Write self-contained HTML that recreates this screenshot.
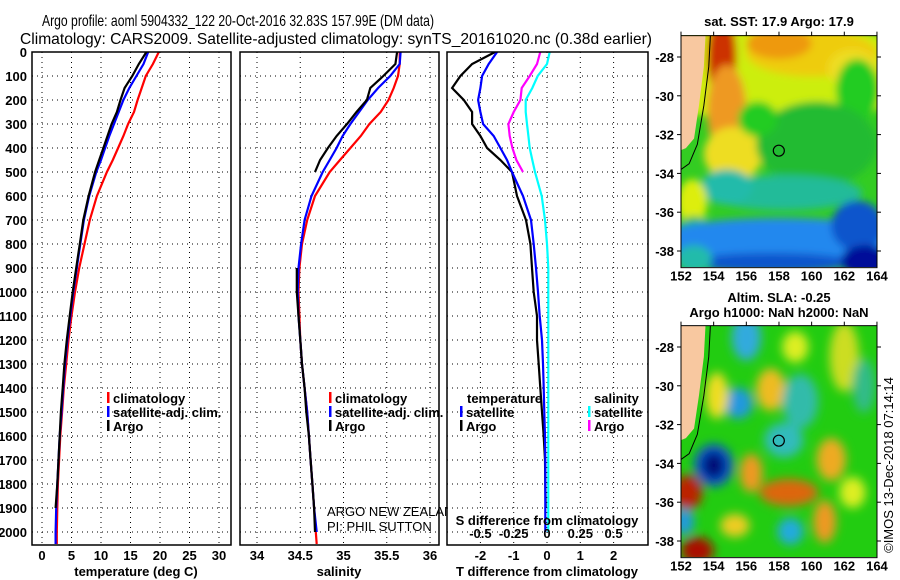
<!DOCTYPE html>
<html><head><meta charset="utf-8"><style>
body{margin:0;background:#fff}
svg{display:block}
text{font-family:"Liberation Sans",sans-serif}
.tk{font-size:13px;font-weight:bold}
.lg{font-size:13px;font-weight:bold}
</style></head><body>
<svg id="s" width="900" height="580" viewBox="0 0 900 580" xmlns="http://www.w3.org/2000/svg">
<defs>
<filter id="bl1" x="-20%" y="-20%" width="140%" height="140%"><feGaussianBlur stdDeviation="4"/></filter>
<filter id="bl2" x="-20%" y="-20%" width="140%" height="140%"><feGaussianBlur stdDeviation="5"/></filter>
<clipPath id="cm1"><rect x="681" y="35" width="196" height="232"/></clipPath>
<clipPath id="cm2"><rect x="681" y="325" width="196" height="232"/></clipPath>
<clipPath id="cp1"><rect x="32" y="52" width="199" height="493"/></clipPath>
<clipPath id="cp2"><rect x="240" y="52" width="199" height="493"/></clipPath>
<clipPath id="cp3"><rect x="447" y="52" width="201" height="493"/></clipPath>
</defs>
<text x="238" y="26" text-anchor="middle" font-size="16" textLength="392" lengthAdjust="spacingAndGlyphs">Argo profile: aoml 5904332_122 20-Oct-2016 32.83S 157.99E (DM data)</text>
<text x="336" y="44" text-anchor="middle" font-size="16" textLength="632" lengthAdjust="spacingAndGlyphs">Climatology: CARS2009. Satellite-adjusted climatology: synTS_20161020.nc (0.38d earlier)</text>
<g id="panels"></g>
<g id="maps"></g>
<text transform="translate(893,465) rotate(-90)" text-anchor="middle" font-size="13">©IMOS 13-Dec-2018 07:14:14</text>
</svg>
<script>
// ---- data ----
const depths = [0,50,100,150,200,250,300,350,400,450,500,600,700,800,900,1000,1100,1200,1300,1400,1500,1600,1700,1800,1900,2000,2050];
const tempClim = [19.8,18.8,17.6,16.9,16.2,15.6,14.6,13.8,12.9,12.0,11.0,9.3,8.1,7.2,6.3,5.6,5.0,4.5,4.1,3.7,3.4,3.1,2.9,2.7,2.6,2.5,2.5];
const tempSat  = [18.0,17.2,16.0,14.8,13.8,13.0,12.2,11.4,10.7,10.0,9.2,8.0,7.1,6.5,5.9,5.3,4.8,4.3,3.9,3.6,3.3,3.0,2.8,2.6,2.4,2.3,2.3];
const tempArgo = [17.7,16.4,15.3,14.0,13.3,12.7,11.8,11.1,10.4,9.7,9.0,7.9,7.0,6.4,5.8,5.2,4.7,4.2,3.8,3.5,3.2,3.0,2.8,2.6,2.3,null,null];
const salClim = [35.65,35.65,35.63,35.58,35.52,35.43,35.30,35.20,35.08,34.96,34.84,34.67,34.58,34.52,34.49,34.48,34.49,34.50,34.52,34.55,34.58,34.60,34.62,34.64,34.66,34.68,34.69];
const salSat  = [35.66,35.65,35.54,35.40,35.28,35.18,35.08,34.99,34.92,34.84,34.76,34.63,34.55,34.51,34.48,34.47,34.48,34.50,34.52,34.55,34.58,34.60,34.62,34.64,34.66,34.69,null];
const salArgo = [35.62,35.60,35.46,35.31,35.27,35.15,35.04,34.92,34.82,34.73,34.67,null,null,null,34.46,34.46,34.48,34.50,34.52,34.55,34.57,34.60,34.62,34.64,34.66,34.67,null];
const dTsat  = [-1.5,-1.75,-1.95,-2.0,-2.07,-2.0,-1.92,-1.6,-1.4,-1.2,-1.05,-0.72,-0.48,-0.4,-0.33,-0.27,-0.22,-0.15,-0.12,-0.1,-0.08,-0.06,-0.05,-0.05,-0.05,-0.05,null];
const dTargo = [-1.56,-2.25,-2.6,-2.85,-2.5,-2.25,-2.25,-2.0,-1.8,-1.4,-1.05,-0.9,-0.63,-0.5,-0.45,-0.4,-0.3,-0.3,-0.25,-0.2,-0.15,-0.1,-0.06,-0.05,-0.04,null,null];
const dSargo = [-0.05,-0.075,-0.13,-0.19,-0.2,-0.25,-0.29,-0.28,-0.26,-0.23,-0.18,null,null,null,null,null,null,null,null,null,null,null,null,null,null,null,null];
const dSsat  = [0.02,0.0,-0.07,-0.11,-0.16,-0.16,-0.15,-0.14,-0.13,-0.11,-0.09,-0.04,-0.015,0,0.01,0.01,0.01,0.01,0.01,0.01,0.01,0.01,0.01,0.01,0.01,0.01,null];
const depthTicks = [0,100,200,300,400,500,600,700,800,900,1000,1100,1200,1300,1400,1500,1600,1700,1800,1900,2000];
const tempTicks = [0,5,10,15,20,25,30];
const salTicks = [34,34.5,35,35.5,36];
const salTickLabels = ['34','34.5','35','35.5','36'];
const dTTicks = [-2,-1,0,1,2];
const dSTicks = [-0.5,-0.25,0,0.25,0.5];
const dSTickLabels = ['-0.5','-0.25','0','0.25','0.5'];
const latTicks = [-28,-30,-32,-34,-36,-38];
const lonTicks = [152,154,156,158,160,162,164];
const argoLon = 157.99, argoLat = -32.83;

// ---- scales ----
const NS='http://www.w3.org/2000/svg';
const yD = d => 52 + d*0.24;
const xT = v => 42 + v*5.9;
const xS = v => 257 + (v-34)*86.5;
const xDT = v => 547 + v*33.3;
const xDS = v => 547 + v*133.2;
const mx = lon => 681 + (lon-152)*16.33;
const my1 = lat => 57 + (-28-lat)*19.4;
const my2 = lat => 347 + (-28-lat)*19.4;

function el(tag, attrs, parent){const e=document.createElementNS(NS,tag);for(const k in attrs)e.setAttribute(k,attrs[k]);parent.appendChild(e);return e;}
const P=document.getElementById('panels');
const M=document.getElementById('maps');

function line(vals, xf, color, parent, name){
  let d='', pen=false;
  for(let i=0;i<depths.length;i++){
    if(vals[i]===null){pen=false;continue;}
    d+=(pen?'L':'M')+xf(vals[i]).toFixed(1)+' '+yD(depths[i]).toFixed(1);pen=true;
  }
  const p=el('path',{d:d,fill:'none',stroke:color,'stroke-width':2.2},parent);
  
  
}

function panel(x0,w,name,xticks,xf,labels,cp,showY){
  const g=el('g',{},P);
  
  
  el('rect',{x:x0,y:52,width:w,height:493,fill:'#fff'},g);
  depthTicks.forEach(d=>{
    el('line',{x1:x0,x2:x0+w,y1:yD(d),y2:yD(d),stroke:'#000','stroke-width':1,'stroke-dasharray':'1 4'},g);
    if(showY){const t=el('text',{x:27,y:yD(d)+5,'text-anchor':'end',class:'tk'},g);t.textContent=d;}
  });
  xticks.forEach((v,i)=>{
    el('line',{x1:xf(v),x2:xf(v),y1:52,y2:545,stroke:'#000','stroke-width':1,'stroke-dasharray':'1 4'},g);
    if(labels){const t=el('text',{x:xf(v),y:560,'text-anchor':'middle',class:'tk'},g);t.textContent=labels[i];}
  });
  const lg=el('g',{'clip-path':'url(#'+cp+')'},g);
  el('rect',{x:x0,y:52,width:w,height:493,fill:'none',stroke:'#000','stroke-width':1.5},g);
  return lg;
}
const g1=panel(32,199,'temperature-panel',tempTicks,xT,tempTicks.map(String),'cp1',true);
line(tempClim,xT,'#f00',g1,'temp-climatology-line');
line(tempSat,xT,'#00f',g1,'temp-satellite-line');
line(tempArgo,xT,'#000',g1,'temp-argo-line');
const g2=panel(240,199,'salinity-panel',salTicks,xS,salTickLabels,'cp2',false);
line(salClim,xS,'#f00',g2,'sal-climatology-line');
line(salSat,xS,'#00f',g2,'sal-satellite-line');
line(salArgo,xS,'#000',g2,'sal-argo-line');
const an=el('text',{x:327,y:516,'font-size':13},P);an.textContent='ARGO NEW ZEALAND';


const an2=el('text',{x:327,y:531,'font-size':13},P);an2.textContent='PI: PHIL SUTTON';


const g3=panel(447,201,'difference-panel',dTTicks,xDT,dTTicks.map(String),'cp3',false);
line(dTargo,xDT,'#000',g3,'dT-argo-line');
line(dTsat,xDT,'#00f',g3,'dT-satellite-line');
line(dSargo,xDS,'#f0f',g3,'dS-argo-line');
line(dSsat,xDS,'#0ff',g3,'dS-satellite-line');
dSTicks.forEach((v,i)=>{const t=el('text',{x:xDS(v),y:538,'text-anchor':'middle',class:'tk'},P);t.textContent=dSTickLabels[i];});
const sdl=el('text',{x:547,y:525,'text-anchor':'middle',class:'tk'},P);sdl.textContent='S difference from climatology';



function axTitle(x,txt,name){const t=el('text',{x:x,y:576,'text-anchor':'middle',class:'tk'},P);t.textContent=txt;
 
 }
axTitle(136,'temperature (deg C)','x-axis-title-temperature');
axTitle(339,'salinity','x-axis-title-salinity');
axTitle(547,'T difference from climatology','x-axis-title-tdiff');

function legend(x,y,color,txt,name){
  const g=el('g',{},P);
  
  
  el('rect',{x:x,y:y-11,width:2.5,height:11,fill:color},g);
  const t=el('text',{x:x+6,y:y,class:'lg'},g);t.textContent=txt;
}
legend(107,403,'#f00','climatology','legend-climatology');
legend(107,417,'#00f','satellite-adj. clim.','legend-satellite-adj');
legend(107,431,'#000','Argo','legend-argo');
legend(329,403,'#f00','climatology','legend2-climatology');
legend(329,417,'#00f','satellite-adj. clim.','legend2-satellite-adj');
legend(329,431,'#000','Argo','legend2-argo');
const tl=el('text',{x:467,y:403,class:'lg'},P);tl.textContent='temperature';
legend(460,417,'#00f','satellite','legend-t-satellite');
legend(460,431,'#000','Argo','legend-t-argo');
const sl=el('text',{x:594,y:403,class:'lg'},P);sl.textContent='salinity';
legend(588,417,'#0ff','satellite','legend-s-satellite');
legend(588,431,'#f0f','Argo','legend-s-argo');

// ---- maps ----
const sstBlobs = [
 [158,-28.8,9,2.6,'#ccee11'],
 [160,-27.8,4,1.2,'#eecc11'],
 [158,-27.3,2,0.8,'#ee9911'],
 [162.5,-28.6,1.5,1,'#eedd22'],
 [154.5,-28,0.9,2.2,'#cc3300'],
 [154.8,-30.8,1.2,2.4,'#ee9922'],
 [155.2,-33,1.8,1.4,'#eedd22'],
 [162.8,-29.7,1.3,1.6,'#22cc22'],
 [160.3,-32.5,3.7,2.2,'#22bb33'],
 [156.7,-31.2,1.2,0.9,'#22cc22'],
 [158.3,-35,4.8,0.9,'#22bb99'],
 [154.8,-34.7,1.6,0.9,'#22bbaa'],
 [152.7,-35.5,0.9,1.2,'#ddee11'],
 [152.8,-36.7,0.8,0.5,'#22bb55'],
 [158,-37.5,8,1.2,'#2288ee'],
 [157.5,-38.6,5,0.5,'#1155cc'],
 [162.8,-36.7,1.6,1.3,'#1155cc'],
 [163.3,-38.5,1.5,0.8,'#001199'],
 [152.8,-38.4,1.1,0.7,'#22bbaa']
];
const slaBlobs = [
 [156,-27.5,0.9,1.2,'#33aadd'],
 [155.5,-30.9,0.9,0.8,'#2299dd'],
 [157.5,-30.2,0.9,1.1,'#eebb22'],
 [154.2,-30.5,0.7,1.2,'#eedd22'],
 [159.3,-30.8,1.1,1.4,'#33bbaa'],
 [158.3,-32.8,1.2,0.9,'#33bbbb'],
 [154,-34.1,1.2,1.1,'#1155cc'],
 [154,-34.1,0.7,0.7,'#000d77'],
 [156.3,-34.5,0.7,1,'#ee9922'],
 [158.6,-35.5,1.8,0.7,'#dd6611'],
 [161.2,-33.8,0.9,1.1,'#eeaa22'],
 [160.8,-37,0.7,1.1,'#ee9922'],
 [152.4,-35.5,0.9,0.9,'#bb2200'],
 [153,-38.5,1,0.7,'#aa1100'],
 [152.2,-37,0.6,0.7,'#2299dd'],
 [158.7,-37.5,0.8,0.7,'#22aadd'],
 [155.3,-37.2,0.9,0.6,'#eecc22'],
 [162,-28.5,0.9,1.8,'#ccdd22'],
 [163.2,-30,0.7,1.4,'#33bb88'],
 [159,-28,0.8,0.8,'#ddee22'],
 [162.5,-35.5,0.8,0.8,'#ddee22']
];
function drawMap(my, cp, filt, base, blobs, name){
  const g=el('g',{},M);
  
  
  const top = my(-26.9);
  const c=el('g',{'clip-path':'url(#'+cp+')'},g);
  el('rect',{x:681,y:top,width:196,height:232,fill:base},c);
  const b=el('g',{filter:'url(#'+filt+')'},c);
  blobs.forEach(bb=>{el('ellipse',{cx:mx(bb[0]),cy:my(bb[1]),rx:bb[2]*16.33,ry:bb[3]*19.4,fill:bb[4]},b);});
  const land=[[152,-26.9],[153.5,-26.9],[153.4,-28.5],[153.1,-30.5],[152.8,-32.2],[152.3,-32.7],[152,-32.8]];
  el('polygon',{points:land.map(p=>mx(p[0])+','+my(p[1])).join(' '),fill:'#f8c8a0'},c);
  const shelf=[[153.8,-26.9],[153.7,-28.5],[153.4,-30.5],[153.0,-32.5],[152.5,-33.5],[152,-33.8]];
  el('polyline',{points:shelf.map(p=>mx(p[0])+','+my(p[1])).join(' '),fill:'none',stroke:'#000','stroke-width':1},c);
  const mk=el('circle',{cx:mx(argoLon),cy:my(argoLat),r:5.5,fill:'none',stroke:'#000','stroke-width':1.2},g);
  
  
  el('rect',{x:681,y:top,width:196,height:232,fill:'none',stroke:'#000','stroke-width':1},g);
  latTicks.forEach(l=>{
    el('line',{x1:677,x2:681,y1:my(l),y2:my(l),stroke:'#000'},g);
    el('line',{x1:877,x2:881,y1:my(l),y2:my(l),stroke:'#000'},g);
    const t=el('text',{x:674,y:my(l)+5,'text-anchor':'end',class:'tk'},g);t.textContent=l;
  });
  lonTicks.forEach(l=>{
    el('line',{x1:mx(l),x2:mx(l),y1:top-4,y2:top,stroke:'#000'},g);
    const t=el('text',{x:mx(l),y:top+245,'text-anchor':'middle',class:'tk'},g);t.textContent=l;
  });
}
drawMap(my1,'cm1','bl1','#33cc22',sstBlobs,'sst-map');
drawMap(my2,'cm2','bl2','#22cc11',slaBlobs,'sla-map');
function mt(x,y,txt,name){const t=el('text',{x:x,y:y,'text-anchor':'middle',class:'tk'},M);t.textContent=txt;
 
 }
mt(779,26,'sat. SST: 17.9 Argo: 17.9','sst-map-title');
mt(779,302,'Altim. SLA: -0.25','sla-map-title');
mt(779,317,'Argo h1000: NaN h2000: NaN','argo-height-title');
</script>
</body></html>
